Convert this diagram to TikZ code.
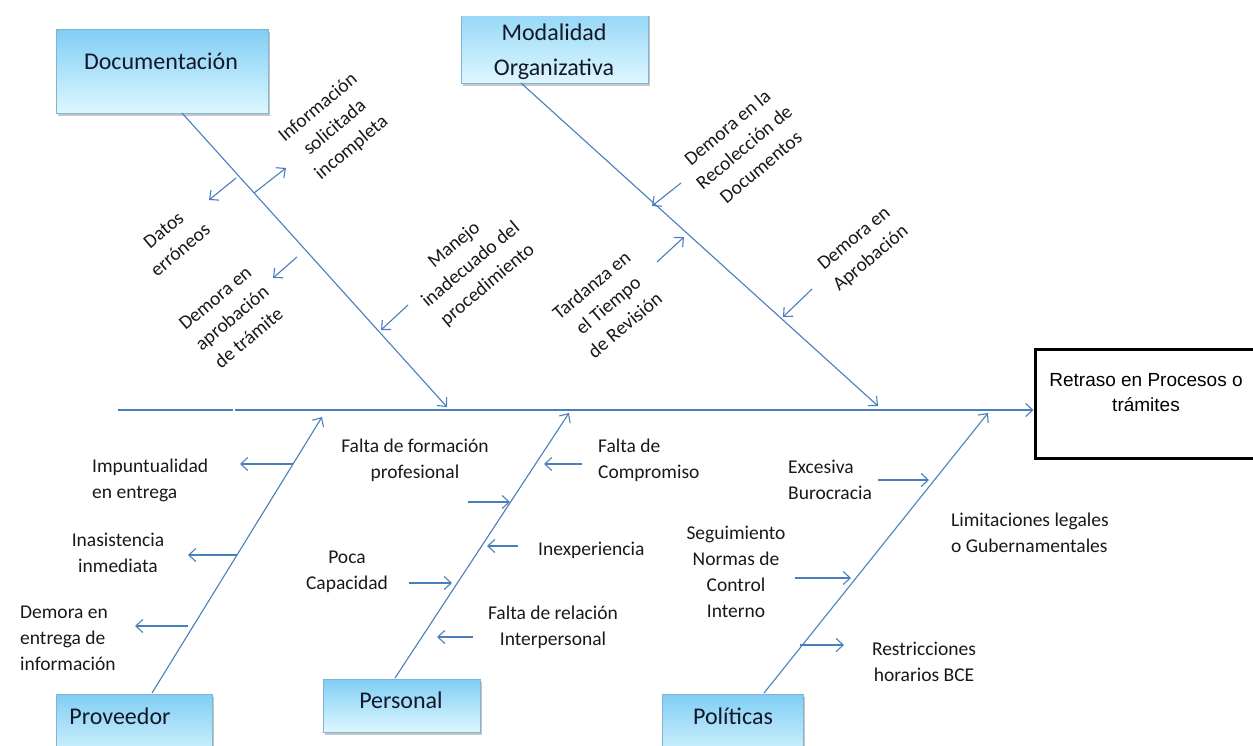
\documentclass[tikz,border=0pt]{standalone}
\usepackage{fontspec}
\setmainfont{Carlito}
\newfontfamily\arialf{Liberation Sans}
\usetikzlibrary{arrows.meta,shadows}
\definecolor{bone}{RGB}{74,126,187}
\definecolor{boxtop}{RGB}{128,206,244}
\definecolor{boxbot}{RGB}{222,247,255}
\definecolor{boxline}{RGB}{130,180,210}
\definecolor{titlecol}{RGB}{20,24,40}
\tikzset{
  bonel/.style={draw=bone, line width=1.1pt},
  arr/.style={bonel, -{Straight Barb[length=7pt,width=13pt]}},
  catbox/.style={draw=boxline, line width=1pt, top color=boxtop, bottom color=boxbot,
     drop shadow={shadow xshift=1.5pt,shadow yshift=-3pt,fill=black!50,opacity=.45},
     inner sep=0pt},
  cattitle/.style={font=\fontsize{24}{35}\selectfont, text=titlecol, align=center, inner sep=0pt},
  lab/.style={font=\fontsize{19.5}{26}\selectfont, text=black!90, inner sep=0pt},
  rlab/.style={lab, rotate=40, align=center},
}
\begin{document}
\begin{tikzpicture}[x=1pt,y=-1pt]
\useasboundingbox (0,0) rectangle (1253,745);
\clip (0,0) rectangle (1253,745);
% ---- boxes
\node[catbox, minimum width=212pt, minimum height=84pt] (doc) at (162,71) {};
\node[cattitle] (docT) at (161,61) {Documentación};
\begin{scope}
\clip (0,16) rectangle (1253,745);
\node[catbox, minimum width=187pt, minimum height=90pt] (mod) at (554.5,38) {};
\end{scope}
\node[cattitle] (modT) at (554,52) {Modalidad\\Organizativa};
\node[catbox, minimum width=156pt, minimum height=70pt] (prov) at (134,729) {};
\node[cattitle] (provT) at (120,716) {Proveedor};
\node[catbox, minimum width=157pt, minimum height=53pt] (pers) at (401.5,705.5) {};
\node[cattitle] (persT) at (401,700) {Personal};
\node[catbox, minimum width=141pt, minimum height=70pt] (pol) at (732.5,729) {};
\node[cattitle] (polT) at (733,716) {Políticas};
% ---- effect
\node[draw=black, line width=3pt, minimum width=240pt, minimum height=109pt, inner sep=0pt] (eff) at (1155,403.5) {};
\node[font=\arialf\fontsize{19}{25}\selectfont, align=center, inner sep=0pt] (effT) at (1146,393) {Retraso en Procesos o\\trámites};
% ---- spine
\coordinate (spA) at (118,410);
\coordinate (spB) at (233,410);
\coordinate (spC) at (235,410);
\draw[bonel] (spA) -- (spB);
\draw[arr] (spC) -- (spC -| eff.west);
% ---- main bones
\coordinate (docS) at (182,113);  \coordinate (docE) at (447,407);
\coordinate (modS) at (521,83);   \coordinate (modE) at (878,406);
\coordinate (provS) at (152,693); \coordinate (provE) at (322,417);
\coordinate (persS) at (395,678); \coordinate (persE) at (569,413);
\coordinate (polS) at (764,693);  \coordinate (polE) at (988,413);
\draw[arr] (docS) -- (docE);
\draw[arr] (modS) -- (modE);
\draw[arr] (provS) -- (provE);
\draw[arr] (persS) -- (persE);
\draw[arr] (polS) -- (polE);
% ---- sub arrows: Documentacion
\coordinate (d1s) at (236,178); \coordinate (d1e) at (209,200);
\coordinate (d2s) at (254,193); \coordinate (d2e) at (286,168);
\coordinate (d3s) at (297,257); \coordinate (d3e) at (273,278);
\coordinate (d4s) at (408,305); \coordinate (d4e) at (381,330);
\draw[arr] (d1s) -- (d1e);
\draw[arr] (d2s) -- (d2e);
\draw[arr] (d3s) -- (d3e);
\draw[arr] (d4s) -- (d4e);
% ---- Modalidad
\coordinate (m1s) at (681,183); \coordinate (m1e) at (652,206);
\coordinate (m2s) at (657,262); \coordinate (m2e) at (684,237);
\coordinate (m3s) at (812,289); \coordinate (m3e) at (783,317);
\draw[arr] (m1s) -- (m1e);
\draw[arr] (m2s) -- (m2e);
\draw[arr] (m3s) -- (m3e);
% ---- Proveedor
\coordinate (p1s) at (293,464); \coordinate (p1e) at (240,464);
\coordinate (p2s) at (237,555); \coordinate (p2e) at (188,555);
\coordinate (p3s) at (188,626); \coordinate (p3e) at (135,626);
\draw[arr] (p1s) -- (p1e);
\draw[arr] (p2s) -- (p2e);
\draw[arr] (p3s) -- (p3e);
% ---- Personal
\coordinate (e1s) at (582,464); \coordinate (e1e) at (544,464);
\coordinate (e2s) at (468,502); \coordinate (e2e) at (510,502);
\coordinate (e3s) at (518,546); \coordinate (e3e) at (487,546);
\coordinate (e4s) at (409,583); \coordinate (e4e) at (452,583);
\coordinate (e5s) at (473,637); \coordinate (e5e) at (437,637);
\draw[arr] (e1s) -- (e1e);
\draw[arr] (e2s) -- (e2e);
\draw[arr] (e3s) -- (e3e);
\draw[arr] (e4s) -- (e4e);
\draw[arr] (e5s) -- (e5e);
% ---- Politicas
\coordinate (o1s) at (878,480); \coordinate (o1e) at (929,480);
\coordinate (o2s) at (795,578); \coordinate (o2e) at (851,578);
\coordinate (o3s) at (800,645); \coordinate (o3e) at (844,645);
\draw[arr] (o1s) -- (o1e);
\draw[arr] (o2s) -- (o2e);
\draw[arr] (o3s) -- (o3e);
% ---- rotated labels
\node[rlab] (lInfo) at (335,128) {Información\\solicitada\\incompleta};
\node[rlab] (lDatos) at (172,240) {Datos\\erróneos};
\node[rlab] (lDemA) at (232,318) {Demora en\\aprobación\\de trámite};
\node[rlab] (lMan) at (471,265) {Manejo\\inadecuado del\\procedimiento};
\node[rlab] (lRec) at (744,147) {Demora en la\\Recolección de\\Documentos};
\node[rlab] (lTard) at (608,305) {Tardanza en\\el Tiempo\\de Revisión};
\node[rlab] (lAprob) at (863,249) {Demora en\\Aprobación};
% ---- horizontal labels
\node[lab, anchor=west, align=left] (lImp) at (92,480) {Impuntualidad\\en entrega};
\node[lab, align=center] (lIna) at (118,553) {Inasistencia\\inmediata};
\node[lab, anchor=west, align=left] (lDemE) at (20,638) {Demora en\\entrega de\\información};
\node[lab, align=center] (lForm) at (415,460) {Falta de formación\\profesional};
\node[lab, anchor=west, align=left] (lComp) at (598,460) {Falta de\\Compromiso};
\node[lab, anchor=west] (lInex) at (538,550) {Inexperiencia};
\node[lab, align=center] (lPoca) at (347,572) {Poca\\Capacidad};
\node[lab, align=center] (lRel) at (553,627) {Falta de relación\\Interpersonal};
\node[lab, anchor=west, align=left] (lBur) at (788,480) {Excesiva\\Burocracia};
\node[lab, align=center] (lSeg) at (736,572) {Seguimiento\\Normas de\\Control\\Interno};
\node[lab, anchor=west, align=left] (lLim) at (951,533) {Limitaciones legales\\o Gubernamentales};
\node[lab, align=center] (lRes) at (924,662) {Restricciones\\horarios BCE};
\end{tikzpicture}
\end{document}
